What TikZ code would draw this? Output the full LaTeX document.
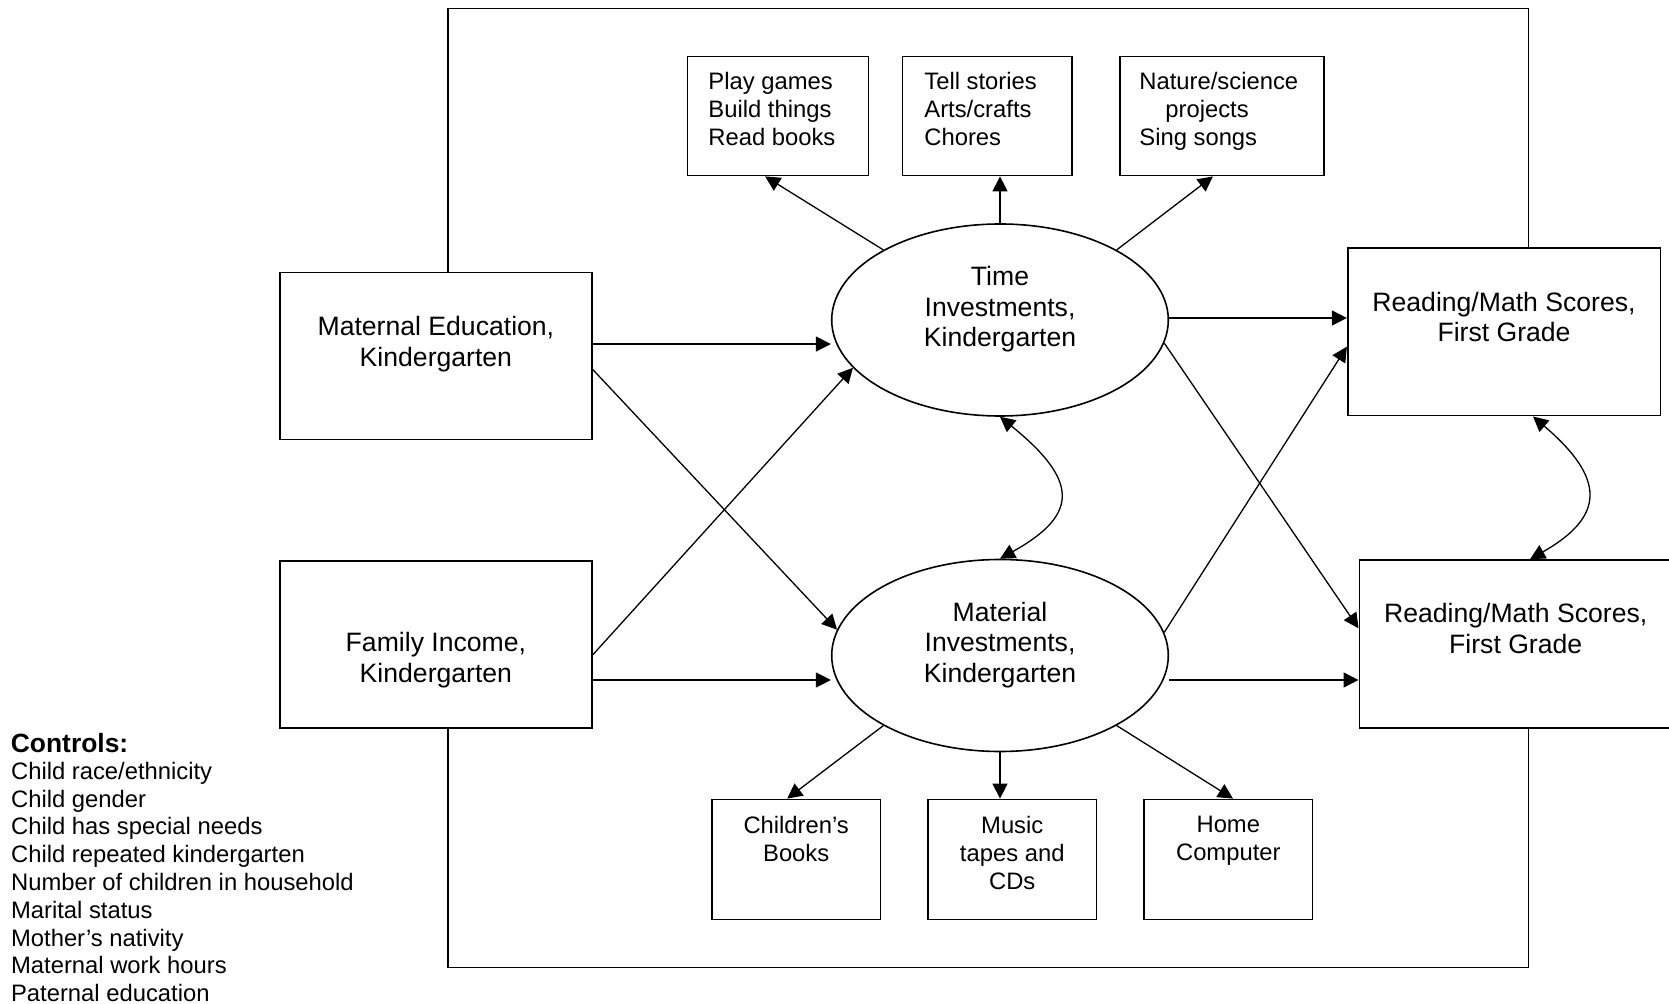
\documentclass[tikz,border=0pt]{standalone}
\usepackage{fontspec}
\setmainfont{Liberation Sans}
\usetikzlibrary{arrows.meta,shapes.geometric,calc}

\begin{document}
\begin{tikzpicture}[x=0.5pt,y=-0.5pt,
  box/.style={draw, line width=0.8pt, rectangle, inner sep=0pt, fill=white},
  oval/.style={draw, line width=0.8pt, ellipse, inner sep=0pt,
    minimum width=168.3pt, minimum height=96pt},
  frameline/.style={line width=0.8pt},
  arr/.style={line width=0.65pt, -{Triangle[length=7.5pt,width=7.5pt]}},
  darr/.style={line width=0.65pt,
    {Triangle[length=7.5pt,width=7.5pt]}-{Triangle[length=7.5pt,width=7.5pt]}},
  bigtxt/.style={font=\fontsize{13.3pt}{15.2pt}\selectfont, inner sep=0pt,
    align=center, anchor=north},
  smalltxt/.style={font=\fontsize{11.9pt}{13.9pt}\selectfont, inner sep=0pt},
]
\useasboundingbox (0,0) rectangle (1669,1004);

% outcome and input boxes
\node[box, minimum width=155.95pt, minimum height=83.55pt] (mated) at (435.85,356.05) {};
\node[box, minimum width=155.95pt, minimum height=83.5pt] (faminc) at (435.85,644.5) {};
\node[box, minimum width=156.3pt, minimum height=83.7pt] (rt) at (1504,332) {};
\node[box, minimum width=156.35pt, minimum height=84pt] (rb) at (1515.65,644) {};

% activity boxes
\node[box, minimum width=90.5pt, minimum height=59.6pt] (tb1) at (778.1,116) {};
\node[box, minimum width=84.65pt, minimum height=59.6pt] (tb2) at (987.25,116) {};
\node[box, minimum width=102.2pt, minimum height=59.6pt] (tb3) at (1221.9,116) {};

% material boxes
\node[box, minimum width=84.1pt, minimum height=60.1pt] (bb1) at (796.2,859.5) {};
\node[box, minimum width=84.1pt, minimum height=60.1pt] (bb2) at (1012.25,859.5) {};
\node[box, minimum width=84.1pt, minimum height=60.1pt] (bb3) at (1228.3,859.5) {};

% investment ovals
\node[oval] (tim) at (1000,320) {};
\node[oval] (mat) at (1000,655.5) {};

% surrounding frame
\coordinate (fnw) at (448,8.5);
\coordinate (fne) at (1528.3,8.5);
\coordinate (fsw) at (448,967.5);
\coordinate (fse) at (1528.3,967.5);
\draw[frameline] (fnw |- mated.north) -- (fnw) -- (fne) -- (fne |- rt.north);
\draw[frameline] (fsw |- faminc.south) -- (fsw) -- (fse) -- (fse |- rb.south);

% time investments to activities
\draw[arr] (tim.149) -- ([xshift=-6.5pt]tb1.south);
\draw[arr] (tim.north) -- (tim.north |- tb2.south);
\draw[arr] (tim.31) -- ([xshift=-4.5pt]tb3.south);

% material investments to items
\draw[arr] (mat.211) -- ([xshift=-4.5pt]bb1.north);
\draw[arr] (mat.south) -- (mat.south |- bb2.north);
\draw[arr] (mat.329) -- ([xshift=2.35pt]bb3.north);

% inputs to investments
\coordinate (me1) at ([yshift=6pt]mated.east);
\draw[arr] (me1) -- (me1 -| tim.west);
\draw[arr] ([yshift=-6.65pt]mated.east) -- (mat.171);
\draw[arr] ([yshift=-5.25pt]faminc.east) -- (tim.198);
\coordinate (fi2) at ([yshift=-17.75pt]faminc.east);
\draw[arr] (fi2) -- (fi2 -| mat.west);

% investments to scores
\coordinate (ti1) at ([yshift=1pt]tim.east);
\draw[arr] (ti1) -- (ti1 -| rt.west);
\draw[arr] (tim.352) -- ([yshift=7.85pt]rb.west);
\draw[arr] (mat.8) -- ([yshift=-7.35pt]rt.west);
\coordinate (mr2) at ([yshift=-18pt]rb.west);
\draw[arr] (mr2 -| mat.east) -- (mr2);

% correlations
\draw[darr] (tim.south) .. controls +(79,64) and +(79,-44) .. (mat.north);
\draw[darr] ([xshift=14.5pt]rt.south) .. controls +(72.5,62) and +(75.5,-43) .. ([xshift=7.2pt]rb.north);

% labels
\node[bigtxt] (mated-t) at (435.9,316) {Maternal Education,\\Kindergarten};
\node[bigtxt] (faminc-t) at (435.9,632) {Family Income,\\Kindergarten};
\node[bigtxt] (tim-t) at (1000,266) {Time\\Investments,\\Kindergarten};
\node[bigtxt] (mat-t) at (1000,601.7) {Material\\Investments,\\Kindergarten};
\node[bigtxt] (rt-t) at (1504,291.7) {Reading/Math Scores,\\First Grade};
\node[bigtxt] (rb-t) at (1515.7,603.3) {Reading/Math Scores,\\First Grade};

\node[smalltxt, align=left, anchor=north west] (tb1-t) at (708,72)
  {Play games\\Build things\\Read books};
\node[smalltxt, align=left, anchor=north west] (tb2-t) at (924,72)
  {Tell stories\\Arts/crafts\\Chores};
\node[smalltxt, align=left, anchor=north west] (tb3-t) at (1139,72)
  {Nature/science\\\hspace*{13pt}projects\\Sing songs};

\node[smalltxt, align=center, anchor=north] (bb1-t) at (796.2,816) {Children’s\\Books};
\node[smalltxt, align=center, anchor=north] (bb2-t) at (1012.25,816) {Music\\tapes and\\CDs};
\node[smalltxt, align=center, anchor=north] (bb3-t) at (1228.3,816) {Home\\Computer};

% controls list
\node[font=\fontsize{13.2pt}{15pt}\selectfont\bfseries, inner sep=0pt, anchor=north west]
  (ctrl-h) at (10.5,733) {Controls:};
\node[smalltxt, align=left, anchor=north west] (ctrl-l) at (10.7,761.7)
  {Child race/ethnicity\\Child gender\\Child has special needs\\Child repeated kindergarten\\
   Number of children in household\\Marital status\\Mother’s nativity\\
   Maternal work hours\\Paternal education};
\end{tikzpicture}
\end{document}
